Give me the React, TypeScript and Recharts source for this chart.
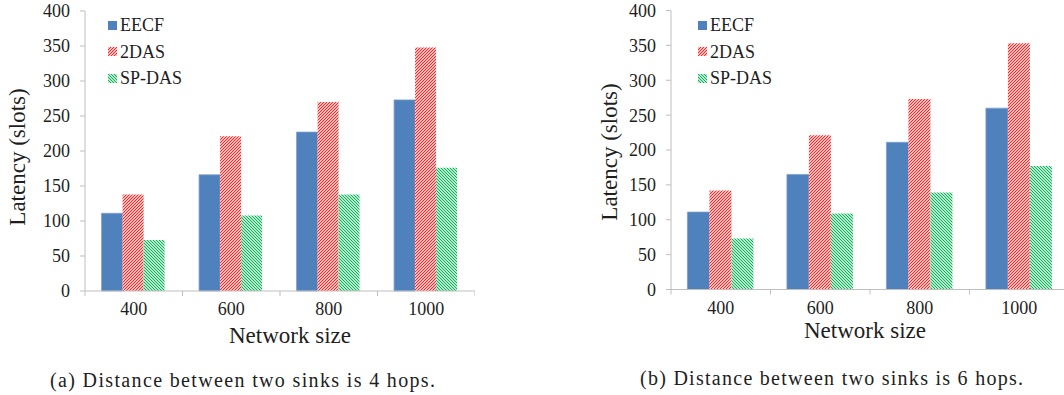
import React from 'react';
import { BarChart, Bar, XAxis, YAxis, Legend } from 'recharts';

const categories = ['400', '600', '800', '1000'];
const seriesNames = ['EECF', '2DAS', 'SP-DAS'];
const eecfA = [111, 166, 227, 273];
const das2A = [138, 221, 270, 348];
const spdasA = [73, 108, 138, 176];
const eecfB = [111, 165, 211, 260];
const das2B = [142, 221, 273, 353];
const spdasB = [73, 109, 139, 177];
const yTicks = [0, 50, 100, 150, 200, 250, 300, 350, 400];
const xTitle = 'Network size';
const yTitle = 'Latency (slots)';
const captionA = '(a) Distance between two sinks is 4 hops.';
const captionB = '(b) Distance between two sinks is 6 hops.';

const FONT = '"Liberation Serif", "Times New Roman", serif';
const TEXT = '#1e1e1e';
const AXIS = '#BFBFBF';
const BLUE = '#4F81BD';
const RED = '#FF1A1A';
const GREEN = '#00B050';

const xTicks = Array.from({ length: categories.length * 2 + 1 }, (_, k) => k / 2);

const build = (a: number[], b: number[], c: number[]) =>
  categories.map((name, i) => ({ name, pos: i + 0.5, s0: a[i], s1: b[i], s2: c[i] }));

const dataA = build(eecfA, das2A, spdasA);
const dataB = build(eecfB, das2B, spdasB);

const XTick = (props: any) => {
  const { x, y, payload } = props;
  const v = payload.value as number;
  if (Number.isInteger(v)) {
    return <line x1={x} x2={x} y1={y} y2={y + 5} stroke={AXIS} strokeWidth={1} />;
  }
  return (
    <text x={x} y={y + 18} textAnchor="middle" dominantBaseline="central" fontSize={18} style={{ fontFamily: FONT }} fill={TEXT}>
      {categories[Math.floor(v)]}
    </text>
  );
};

const renderLegend = (props: any) => {
  const payload = [...(props.payload || [])].sort(
    (a: any, b: any) => seriesNames.indexOf(a.value) - seriesNames.indexOf(b.value)
  );
  return (
    <div style={{ display: 'flex', flexDirection: 'column' }}>
      {payload.map((e: any, i: number) => (
        <div key={i} style={{ height: 26.5, display: 'flex', alignItems: 'center' }}>
          <svg width={9} height={9} style={{ display: 'block' }}>
            <rect x={0} y={0} width={9} height={9} fill={e.color} />
          </svg>
          <span style={{ marginLeft: 3, fontSize: 18, fontFamily: FONT, color: TEXT, lineHeight: '20px' }}>{e.value}</span>
        </div>
      ))}
    </div>
  );
};

const fills = [BLUE, 'url(#pRed)', 'url(#pGreen)'];

const Chart = ({ data, width, top, bottom, gap, legendLeft }: any) => (
  <BarChart
    width={width}
    height={395}
    data={data}
    margin={{ top, right: 0, bottom, left: 0 }}
    barCategoryGap={gap}
    barGap={0}
  >
    <XAxis xAxisId="cat" dataKey="name" type="category" hide height={0} />
    <XAxis
      xAxisId="num"
      dataKey="pos"
      type="number"
      domain={[0, categories.length]}
      ticks={xTicks}
      interval={0}
      allowDataOverflow
      tickSize={0}
      tickMargin={0}
      tickLine={false}
      axisLine={{ stroke: AXIS, strokeWidth: 1 }}
      tick={XTick}
      height={30}
    />
    <YAxis
      type="number"
      domain={[0, 400]}
      ticks={yTicks}
      interval={0}
      width={85}
      tickSize={5}
      tickMargin={10}
      tickLine={{ stroke: AXIS }}
      axisLine={{ stroke: AXIS }}
      tick={{ fontSize: 18, fontFamily: FONT, fill: TEXT }}
    />
    <Legend
      layout="vertical"
      align="center"
      verticalAlign="middle"
      content={renderLegend}
      wrapperStyle={{ left: legendLeft, top: 12, width: 'auto', height: 'auto' }}
    />
    {seriesNames.map((n, i) => (
      <Bar
        key={n}
        xAxisId="cat"
        dataKey={`s${i}`}
        name={n}
        fill={fills[i]}
        stroke={i === 0 ? '#7FA0CC' : 'none'}
        strokeWidth={i === 0 ? 0.8 : 0}
        isAnimationActive={false}
      />
    ))}
  </BarChart>
);

const T = (p: any) => <text {...p} style={{ fontFamily: FONT }} fill={TEXT} />;

export default function App() {
  return (
    <div style={{ position: 'absolute', left: 0, top: 0, width: 1064, height: 395, overflow: 'hidden', background: '#fff' }}>
      <svg width={0} height={0} style={{ position: 'absolute', left: 0, top: 0 }}>
        <defs>
          <pattern id="pRed" width={3} height={3} patternUnits="userSpaceOnUse">
            <rect width={3} height={3} fill="#fff" />
            <path d="M0,3 L3,0 M-1,1 L1,-1 M2,4 L4,2" stroke={RED} strokeWidth={1.1} />
          </pattern>
          <pattern id="pGreen" width={3} height={3} patternUnits="userSpaceOnUse">
            <rect width={3} height={3} fill="#fff" />
            <path d="M0,0 L3,3 M2,-1 L4,1 M-1,2 L1,4" stroke={GREEN} strokeWidth={1.1} />
          </pattern>
        </defs>
      </svg>
      <div style={{ position: 'absolute', left: 0, top: 0 }}>
        <Chart data={dataA} width={475} top={11} bottom={74} gap="17%" legendLeft={108} />
      </div>
      <div style={{ position: 'absolute', left: 586, top: 0 }}>
        <Chart data={dataB} width={483} top={10.5} bottom={75.5} gap="16.5%" legendLeft={112} />
      </div>
      <svg width={1064} height={395} style={{ position: 'absolute', left: 0, top: 0, pointerEvents: 'none' }}>
        <T x={17.5} y={157} transform="rotate(-90 17.5 157)" textAnchor="middle" dominantBaseline="central" fontSize={23}>
          {yTitle}
        </T>
        <T x={609} y={152} transform="rotate(-90 609 152)" textAnchor="middle" dominantBaseline="central" fontSize={23}>
          {yTitle}
        </T>
        <T x={290} y={335} textAnchor="middle" dominantBaseline="central" fontSize={23}>
          {xTitle}
        </T>
        <T x={865} y={330} textAnchor="middle" dominantBaseline="central" fontSize={23}>
          {xTitle}
        </T>
        <T x={242.5} y={380} textAnchor="middle" dominantBaseline="central" fontSize={20} textLength={385} lengthAdjust="spacing">
          {captionA}
        </T>
        <T x={831.5} y={378} textAnchor="middle" dominantBaseline="central" fontSize={20} textLength={383} lengthAdjust="spacing">
          {captionB}
        </T>
      </svg>
    </div>
  );
}
